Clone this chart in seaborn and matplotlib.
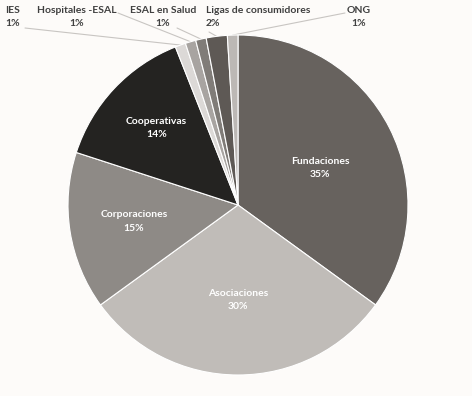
import numpy as np
import matplotlib
matplotlib.use("Agg")
import matplotlib.pyplot as plt
import seaborn as sns

# --- datos ---
categorias = ["Fundaciones", "Asociaciones", "Corporaciones", "Cooperativas",
              "IES", "Hospitales -ESAL", "ESAL en Salud", "Ligas de consumidores", "ONG"]
porcentajes = [35, 30, 15, 14, 1, 1, 1, 2, 1]
colores = ["#67625e", "#c0bcb8", "#8e8a86", "#242321",
           "#dcd9d7", "#a8a4a1", "#807c78", "#5e5955", "#bcb8b5"]
internas = ["Fundaciones", "Asociaciones", "Corporaciones", "Cooperativas"]

sns.set_theme(style="white")
plt.rcParams["font.family"] = ["Lato", "DejaVu Sans"]

W, H = 472, 396
fig = plt.figure(figsize=(W / 100, H / 100), dpi=100, facecolor="#fdfbf9")
cx, cy, r = 238, 205, 170
ax = fig.add_axes([(cx - r) / W, (H - cy - r) / H, 2 * r / W, 2 * r / H])
ax.set_facecolor("#fdfbf9")

wedges, _ = ax.pie(porcentajes, colors=colores, startangle=90, counterclock=False,
                   radius=1, wedgeprops=dict(edgecolor="white", linewidth=0.8))
ax.set_xlim(-1, 1)
ax.set_ylim(-1, 1)
ax.set_aspect("equal")
ax.axis("off")


def px2data(px, py):
    return (px - cx) / r, (cy - py) / r


# etiquetas internas (distancia radial como en el original)
dist_interna = {"Fundaciones": 0.53, "Asociaciones": 0.56,
                "Corporaciones": 0.62, "Cooperativas": 0.66}
for w, cat, p in zip(wedges, categorias, porcentajes):
    if cat not in internas:
        continue
    ang = np.deg2rad((w.theta1 + w.theta2) / 2 - 3 * (cat == "Fundaciones"))
    d = dist_interna[cat]
    ax.text(d * np.cos(ang), d * np.sin(ang), f"{cat}\n{p}%",
            ha="center", va="center", color="white", fontsize=7.5,
            fontweight="bold", linespacing=1.6)

# etiquetas externas: posición del texto y arranque de la línea guía (pixeles)
pos_texto = {"IES": (13, 17, "center"), "Hospitales -ESAL": (77, 17, "center"),
             "ESAL en Salud": (163, 17, "center"),
             "Ligas de consumidores": (206, 17, "left"), "ONG": (359, 17, "center")}
pos_linea = {"IES": (25, 28), "Hospitales -ESAL": (118, 13), "ESAL en Salud": (177, 28),
             "Ligas de consumidores": (209, 32), "ONG": (345, 13)}

for w, cat, p in zip(wedges, categorias, porcentajes):
    if cat in internas:
        continue
    tx, ty, ha = pos_texto[cat]
    x, y = px2data(tx, ty)
    ax.text(x, y, f"{cat}\n{p}%", ha=ha, va="center", color="#404040",
            fontsize=7.5, fontweight="bold", linespacing=1.6, clip_on=False,
            multialignment=ha)
    ang = np.deg2rad((w.theta1 + w.theta2) / 2)
    lx, ly = px2data(*pos_linea[cat])
    ax.plot([lx, 1.0 * np.cos(ang)], [ly, 1.0 * np.sin(ang)], color="#c8c5c2",
            lw=0.8, clip_on=False, zorder=0)

fig.savefig("out.png", dpi=100, facecolor=fig.get_facecolor())
